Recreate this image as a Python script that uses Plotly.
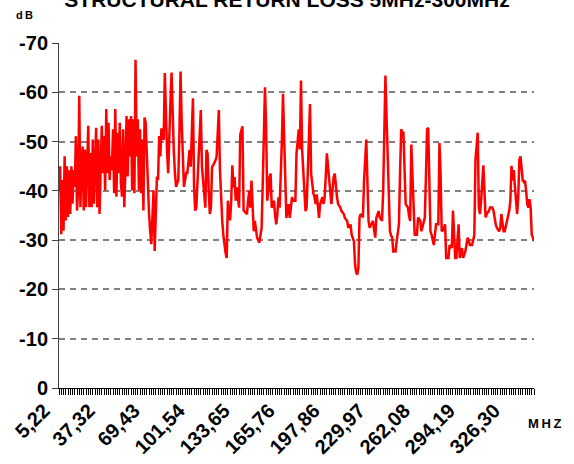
import plotly.graph_objects as go

# Structural return loss (dB), one value per frequency point
srl_db = [
    -40, -45, -31.2, -42.2, -31.9, -47, -34, -45, -34.7, -44.2,
    -35.3, -45, -37.4, -44.2, -40.8, -51.1, -36, -40.8, -59.3, -36.7,
    -44.2, -49, -36, -48.4, -36.7, -44.2, -53.2, -36.7, -47.7, -36.7,
    -50.4, -37.4, -44.2, -52.8, -36.7, -50.4, -35.3, -47, -53.2, -43.6,
    -51.1, -40.1, -56.6, -43.6, -53.8, -42.2, -47, -44.2, -52.5, -39.5,
    -56.6, -38.8, -51.8, -43.6, -53.8, -41.5, -38.8, -52.5, -36.7, -44.2,
    -55.2, -42.9, -54.5, -47, -55.2, -40.1, -54.5, -39.5, -66.6, -47,
    -54.5, -40.1, -52.5, -39.5, -50.4, -36, -54.9, -53.8, -47, -41.5,
    -35.3, -31.9, -29.2, -34.7, -40.1, -27.8, -34.7, -42.9, -42.2, -51.1,
    -47, -52.7, -51.4, -50.3, -63.9, -53, -48, -43.6, -54, -58,
    -64, -54, -48, -43.6, -40.8, -41.5, -42.2, -52, -64.2, -54,
    -47, -40.8, -42.2, -43.6, -43.6, -46, -48.3, -44.9, -52, -58.8,
    -40.8, -36, -36.6, -42, -46.9, -52, -56.4, -44.9, -42, -40.8,
    -36.6, -48.3, -47.6, -40, -35.3, -36.6, -44.9, -45.2, -45.6, -46.2,
    -46.9, -51, -56.4, -44.2, -38, -34, -31, -28.4, -27.4, -26.4,
    -38, -36, -34, -38, -45.2, -40.7, -42.8, -38, -40.7, -38.5,
    -36.6, -51.4, -52.3, -53.1, -36, -35.8, -35.6, -35.3, -38, -40,
    -36.6, -42.1, -37, -31.8, -33.9, -32, -30.5, -30, -29.5, -31,
    -32.5, -41.4, -51, -61, -53.1, -38, -40, -42.8, -43.5, -36.6,
    -37, -38, -35, -33.2, -35.3, -38.7, -36.6, -42.1, -50, -59.7,
    -50, -41.4, -34.5, -36, -37.3, -34.5, -36.5, -38.7, -38, -38,
    -38, -47.6, -50, -52.5, -48.4, -62.4, -48.4, -44, -40.7, -35.9,
    -36.6, -45, -53.1, -57.6, -43.5, -40.7, -39.5, -38.7, -37.3, -39.3,
    -36, -34.5, -37.3, -38, -38.7, -37.3, -38.7, -43, -47.6, -44.9,
    -42, -40, -37.3, -40, -42.8, -43.5, -40, -38.7, -37.3, -37,
    -36.6, -35.9, -35.6, -35.3, -34.5, -34.2, -33.9, -32.5, -32.8, -33.2,
    -31.1, -30.5, -29.8, -25.1, -23.5, -23, -24.4, -34.6, -35.3, -35,
    -34.6, -42.1, -46, -50.4, -42.1, -33.9, -32.5, -33, -33.2, -33.9,
    -32, -30.5, -34.6, -35.3, -35.9, -34.6, -34.3, -33.9, -40, -52,
    -63.4, -55.1, -47, -39.3, -31.8, -31, -30.5, -27.7, -27.7, -27.7,
    -29.8, -31.5, -33.2, -43.5, -52.5, -51.8, -51.8, -44.2, -37.3, -37,
    -36.6, -34.9, -33.9, -49.4, -43.5, -40, -31.1, -31.1, -31.1, -34.6,
    -34.2, -33.9, -31.8, -33, -33.9, -34.6, -43, -52.5, -52.8, -43.5,
    -31.8, -31.1, -30, -29, -31.1, -33.2, -33.2, -33.2, -49.7, -43.5,
    -31.8, -32, -32.5, -33.2, -26.4, -26.4, -26.4, -29, -28.7, -28.4,
    -36, -30, -26.4, -26.4, -30, -33.2, -26.4, -27.5, -28.4, -26.4,
    -27, -27.7, -29, -30.5, -30, -29, -29, -29, -30, -31.1,
    -46.3, -49, -51.8, -36.6, -35.3, -38, -42.1, -45.2, -40, -34.6,
    -35.3, -35.6, -36, -36.6, -36.6, -36.6, -36, -34.5, -33.2, -32.5,
    -32, -31.8, -32.5, -35.3, -33.5, -31.8, -31.8, -32.8, -33.9, -34.6,
    -36, -38, -45.1, -42.1, -44.2, -41, -38, -35.3, -38.7, -46.3,
    -47, -44.5, -42.1, -41.8, -42.1, -40, -37.3, -36.6, -38.3, -36.6,
    -31.1, -30.5, -29.8,
]

freq_tick_labels = ["5,22", "37,32", "69,43", "101,54", "133,65", "165,76",
                    "197,86", "229,97", "262,08", "294,19", "326,30"]
points_per_label = 40   # one labelled frequency every 40 points
points_per_tick = 2     # one tick mark every 2 points

y_tick_vals = [0, -10, -20, -30, -40, -50, -60, -70]

n = len(srl_db)
points = list(range(n))
label_vals = [k * points_per_label for k in range(len(freq_tick_labels))]
tick_vals = list(range(0, n, points_per_tick))

FONT = "Liberation Sans, Arial, sans-serif"

fig = go.Figure()
# helper trace so the tick-mark axis (x2) is drawn; fully transparent
fig.add_trace(go.Scatter(
    x=points, y=srl_db, xaxis="x2", mode="lines",
    line=dict(color="rgba(0,0,0,0)", width=0),
    hoverinfo="skip", showlegend=False,
))
fig.add_trace(go.Scatter(
    x=points, y=srl_db, mode="lines",
    line=dict(color="#FF0000", width=2.5),
    hoverinfo="skip", showlegend=False,
))

fig.update_layout(
    width=574, height=464,
    margin=dict(l=59, r=40, t=43, b=76, autoexpand=False),
    paper_bgcolor="white", plot_bgcolor="white",
    font=dict(family=FONT, color="black"),
    title=dict(
        text="<b>STRUCTURAL RETURN LOSS 5MHz-300MHz</b>",
        font=dict(family=FONT, size=21, color="black"),
        x=0.5, xanchor="center",
        yref="container", y=1.0, yanchor="bottom",
        pad=dict(b=-7),
    ),
    # labels only (shifted like the original rotated labels)
    xaxis=dict(
        range=[0, n - 1],
        tickmode="array", tickvals=label_vals,
        ticktext=["<b>" + t + "</b>" for t in freq_tick_labels],
        tickangle=-45,
        tickfont=dict(family=FONT, size=20, color="black"),
        ticks="", ticklabelshift=-15, ticklabelstandoff=6,
        showline=False, showgrid=False, zeroline=False, automargin=False,
    ),
    # dense category tick marks + axis line
    xaxis2=dict(
        overlaying="x", side="bottom", anchor="y",
        range=[0, n - 1],
        tickmode="array", tickvals=tick_vals, showticklabels=False,
        ticks="outside", ticklen=6, tickcolor="black", tickwidth=1,
        showline=True, linecolor="black", linewidth=1,
        showgrid=False, zeroline=False, automargin=False,
    ),
    yaxis=dict(
        range=[0, -70],
        tickmode="array", tickvals=y_tick_vals,
        ticktext=["<b>%d</b>" % v for v in y_tick_vals],
        tickfont=dict(family=FONT, size=20, color="black"),
        ticks="outside", ticklen=6, tickcolor="#444444", tickwidth=1,
        showline=True, linecolor="#444444", linewidth=1,
        showgrid=True, gridcolor="#808080", gridwidth=1.5,
        griddash="6px,5px",
        zeroline=False, automargin=False,
    ),
    annotations=[
        dict(text="<b>d\u2009B</b>", xref="paper", yref="paper",
             x=-0.0716, y=1.0826, xanchor="center", yanchor="middle",
             showarrow=False, font=dict(family=FONT, size=11, color="black")),
        dict(text="<b>M\u2009H\u2009Z</b>", xref="paper", yref="paper",
             x=1.023, y=-0.104, xanchor="center", yanchor="middle",
             showarrow=False, font=dict(family=FONT, size=13, color="black")),
    ],
)

fig.write_html("out.html", config={"displayModeBar": False},
               post_script="document.body.style.margin='0';")
